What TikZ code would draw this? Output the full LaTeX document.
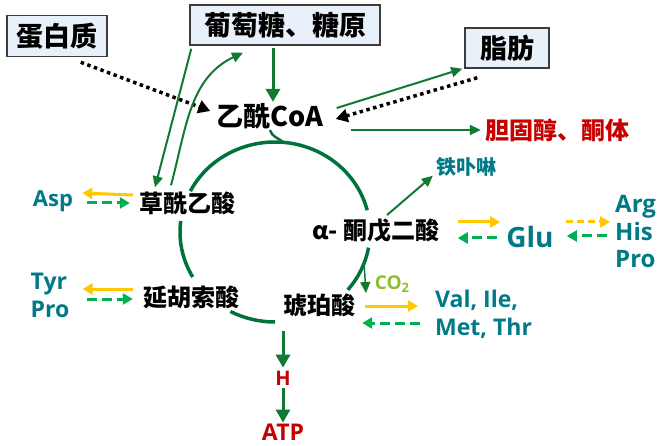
\documentclass[tikz,border=0pt]{standalone}
\usepackage{fontspec}
\setmainfont{Noto Sans CJK SC}
\newfontfamily\latfont{Open Sans}
\usepackage{xcolor}
\usepackage{tikz}
\usetikzlibrary{shapes,arrows.meta,positioning}
\definecolor{tcagreen}{RGB}{0,114,60}
\definecolor{arrgreen}{RGB}{16,122,48}
\definecolor{aagreen}{RGB}{0,176,80}
\definecolor{aayellow}{RGB}{255,200,0}
\definecolor{aateal}{RGB}{0,122,135}
\definecolor{cholred}{RGB}{200,0,0}
\definecolor{co2green}{RGB}{140,192,40}
\definecolor{boxblue}{RGB}{232,240,250}
\definecolor{boxgray}{RGB}{60,60,60}

\begin{document}
\begin{tikzpicture}[x=1pt, y=1pt]
    \tikzstyle{box} = [rectangle, draw=boxgray, line width=1.5pt, fill=boxblue, minimum height=41pt, inner sep=2pt, font=\fontsize{27}{30}\selectfont\bfseries]
    \tikzstyle{acid} = [inner sep=1pt, font=\fontsize{24}{28}\selectfont\bfseries]
    \tikzstyle{aa} = [inner sep=1pt, text=aateal, align=left, font=\latfont\fontsize{23}{28}\selectfont\bfseries]
    \tikzstyle{tca} = [line width=3.5pt, tcagreen]
    \tikzstyle{arrow} = [line width=2pt, -{Triangle[length=11pt,width=10pt]}, arrgreen]
    \tikzstyle{bigarrow} = [line width=3pt, -{Triangle[length=13pt,width=14pt]}, arrgreen]
    \tikzstyle{dotarrow} = [line width=3.5pt, dash pattern=on 3.5pt off 3.5pt, -{Triangle[length=12pt,width=13pt]}, black]
    \tikzstyle{yarrow} = [line width=3pt, -{Triangle[length=10pt,width=11pt]}, aayellow]
    \tikzstyle{ydash} = [yarrow, dash pattern=on 7pt off 4pt]
    \tikzstyle{gdash} = [line width=3pt, dash pattern=on 10pt off 5pt, -{Triangle[length=10pt,width=11pt]}, aagreen]

    \fill[white] (0,0) rectangle (666,-446);
    \useasboundingbox (0,0) rectangle (666,-446);

    % sources
    \node (prot) [box, minimum width=100pt] at (57,-36) {蛋白质};
    \node (glc) [box, minimum width=190pt, minimum height=40pt] at (285,-25) {葡萄糖、糖原};
    \node (fat) [box, minimum width=84pt, minimum height=40pt] at (507,-48) {脂肪};
    \node (acoa) [acid, font=\fontsize{27}{30}\selectfont\bfseries] at (270,-116) {乙酰CoA};
    \node (chol) [acid, text=cholred] at (557,-130) {胆固醇、酮体};

    % cycle members
    \node (oaa) [acid] at (187,-203) {草酰乙酸};
    \node (akg) [acid] at (376,-231) {α- 酮戊二酸};
    \node (fum) [acid] at (191,-297) {延胡索酸};
    \node (suc) [acid] at (319,-305) {琥珀酸};
    \node (heme) [acid, text=aateal, font=\fontsize{20}{24}\selectfont\bfseries] at (466,-167) {铁卟啉};

    % amino acids
    \node (asp) [aa, font=\latfont\fontsize{22}{26}\selectfont\bfseries] at (53,-201) {Asp};
    \node (tyrpro) [aa] at (50,-295) {Tyr\\Pro};
    \node (vimt) [aa, anchor=west] at (434,-314) {Val, Ile,\\Met, Thr};
    \node (glu) [aa, font=\latfont\fontsize{28}{32}\selectfont\bfseries] at (530,-237) {Glu};
    \node (arg) [aa, anchor=west, font=\latfont\fontsize{24}{27.5}\selectfont\bfseries] at (614,-232) {Arg\\His\\Pro};
    \node (co2) [inner sep=0pt, text=co2green, font=\latfont\fontsize{19}{21}\selectfont\bfseries] at (392,-284) {CO\raisebox{-0.25ex}{\fontsize{13}{14}\selectfont 2}};
    \node (h) [inner sep=3pt, text=cholred, font=\latfont\fontsize{20}{22}\selectfont\bfseries] at (283,-378) {H};
    \node (atp) [inner sep=1pt, text=cholred, font=\latfont\fontsize{23}{26}\selectfont\bfseries] at (283,-432) {ATP};

    % the cycle
    \coordinate (c) at (275,-232);
    \coordinate (join) at (283,-142);
    \coordinate (co2fork) at (364,-263);
    \coordinate (co2end) at (366,-293);
    \coordinate (bot) at (283,-331);
    \draw[tca] (c) ++(153:95 and 90) arc[start angle=153, end angle=14, x radius=95, y radius=90];
    \draw[tca] (c) ++(173:95 and 90) arc[start angle=173, end angle=210, x radius=95, y radius=90];
    \draw[tca] (c) ++(242:95 and 90) arc[start angle=242, end angle=270, x radius=95, y radius=90];
    \draw[tca] (c) ++(-10:95 and 90) arc[start angle=-10, end angle=-40, x radius=95, y radius=90];
    \draw[tca, line width=2.5pt] (acoa.south) to[out=-75, in=140] (join);
    \draw[arrow, line width=1.5pt] (co2fork) -- (co2end);
    \draw[bigarrow] (bot) -- (h);
    \draw[bigarrow] (h) -- (atp);

    % into and out of acetyl-CoA
    \draw[dotarrow] ([xshift=-27pt,yshift=-5pt]prot.south east) -- ([xshift=-5pt,yshift=5pt]acoa.west);
    \draw[bigarrow] ([xshift=-12pt,yshift=-2pt]glc.south) -- ([xshift=3pt]acoa.north);
    \draw[arrow] ([xshift=2pt,yshift=-3pt]glc.south west) -- ([xshift=-32pt,yshift=3pt]oaa.north);
    \draw[arrow] ([xshift=-16pt,yshift=5pt]oaa.north) to[out=75, in=205] ([xshift=-42pt,yshift=-7pt]glc.south);
    \draw[arrow] ([xshift=12pt,yshift=8pt]acoa.east) -- ([xshift=-2pt]fat.south west);
    \draw[dotarrow] ([xshift=13pt,yshift=-9pt]fat.south west) -- ([xshift=11pt,yshift=-3pt]acoa.east);
    \draw[arrow] ([xshift=26pt,yshift=-14pt]acoa.east) -- ([xshift=-3pt]chol.west);
    \draw[arrow] ([xshift=11pt,yshift=3pt]akg.north) -- ([xshift=-2pt,yshift=2pt]heme.south west);

    % amino acid exchanges
    \draw[yarrow] ([xshift=-5pt,yshift=8pt]oaa.west) -- ([xshift=8pt,yshift=8pt]asp.east);
    \draw[gdash] ([xshift=13pt,yshift=-2pt]asp.east) -- ([xshift=-8pt]oaa.west);
    \draw[yarrow] ([xshift=-9pt,yshift=8pt]fum.west) -- ([xshift=12pt,yshift=6pt]tyrpro.east);
    \draw[gdash] ([xshift=16pt,yshift=-4pt]tyrpro.east) -- ([xshift=-9pt,yshift=-2pt]fum.west);
    \draw[yarrow] ([xshift=9pt,yshift=-1pt]suc.east) -- ([xshift=-16pt,yshift=8pt]vimt.west);
    \draw[gdash] ([xshift=-14pt,yshift=-9pt]vimt.west) -- ([xshift=6pt,yshift=-18pt]suc.east);
    \draw[yarrow] ([xshift=17pt,yshift=9pt]akg.east) -- ([xshift=-5pt,yshift=15pt]glu.west);
    \draw[gdash] ([xshift=-8pt,yshift=-1pt]glu.west) -- ([xshift=17pt,yshift=-7pt]akg.east);
    \draw[ydash] ([xshift=11pt,yshift=15pt]glu.east) -- ([xshift=-4pt,yshift=10pt]arg.west);
    \draw[gdash] ([xshift=-7pt,yshift=-4pt]arg.west) -- ([xshift=12pt,yshift=1pt]glu.east);
\end{tikzpicture}
\end{document}
